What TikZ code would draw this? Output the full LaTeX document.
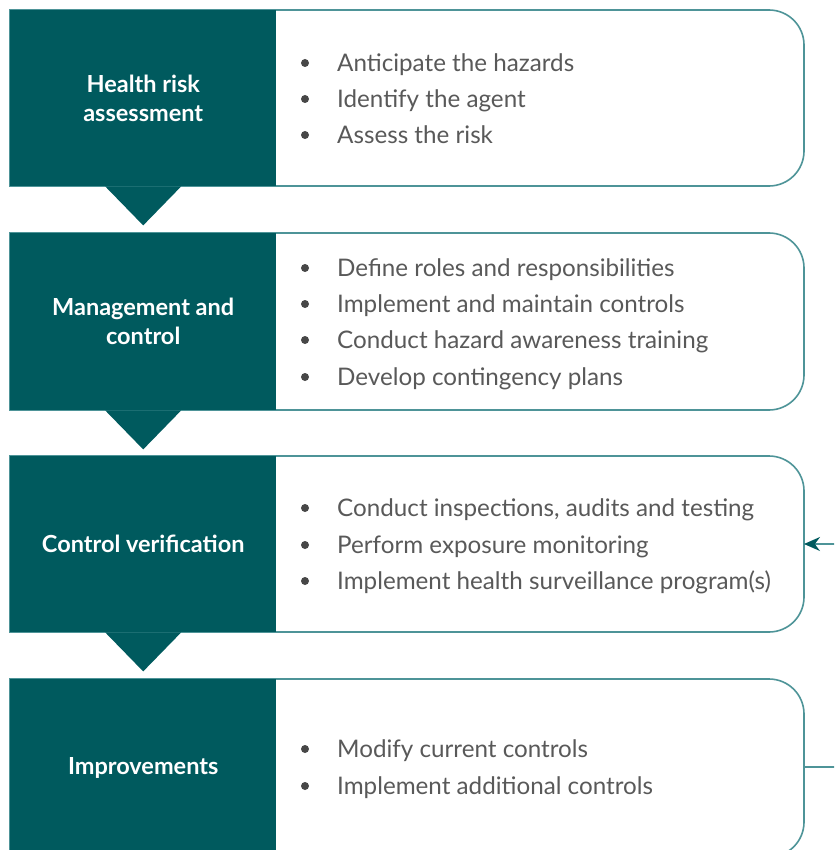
\documentclass[tikz,border=0pt]{standalone}
\usepackage{fontspec}
\setmainfont{Lato}
\usetikzlibrary{arrows.meta}
\definecolor{darkteal}{HTML}{005A5E}
\definecolor{edgeteal}{HTML}{4E9498}
\definecolor{txtgrey}{HTML}{595959}
\tikzset{
  darkbox/.style={fill=darkteal, draw=none, minimum width=266pt, minimum height=#1, inner sep=0pt, anchor=north west, text=white, font=\fontsize{23.5}{29}\selectfont\bfseries, align=center},
  contentbox/.style={draw=edgeteal, line width=1.6pt, fill=white},
  pointer/.style={fill=darkteal, draw=none},
  bullet/.style={anchor=base west, text=txtgrey, font=\fontsize{24.2}{36}\selectfont, inner sep=0pt},
  dot/.style={circle, fill=txtgrey!80!black, minimum size=8pt, inner sep=0pt},
  feedback/.style={draw=edgeteal, line width=1.6pt},
}
\begin{document}
\begin{tikzpicture}[x=1pt,y=-1pt]
\useasboundingbox (0,0) rectangle (834,850);
\clip (0,0) rectangle (834,850);
% content boxes
\foreach \t/\b in {10/186, 233/410, 456/632, 679/857}{
  \draw[contentbox] (10,\t) -- (460,\t) [rounded corners=35pt] -- (804,\t) -- (804,\b) -- (460,\b) [sharp corners] -- (10,\b) -- cycle;
}
% dark boxes
\node[darkbox=176pt] (d1) at (10,10) {Health risk\\assessment};
\node[darkbox=177pt] (d2) at (10,233) {Management and\\control};
\node[darkbox=176pt] (d3) at (10,456) {Control verification};
\node[darkbox=178pt] (d4) at (10,679) {Improvements};
% pointers
\fill[pointer] (d1.south) ++(-38,0) -- ++(38,39) -- ++(38,-39) -- cycle;
\fill[pointer] (d2.south) ++(-38,0) -- ++(38,39) -- ++(38,-39) -- cycle;
\fill[pointer] (d3.south) ++(-38,0) -- ++(38,39) -- ++(38,-39) -- cycle;
% bullets
\foreach \y/\s in {63/Anticipate the hazards, 99/Identify the agent, 135/Assess the risk,
  268/Define roles and responsibilities, 304/Implement and maintain controls, 340/Conduct hazard awareness training, 377/Develop contingency plans,
  508/{Conduct inspections, audits and testing}, 545/Perform exposure monitoring, 581/Implement health surveillance program(s),
  749/Modify current controls, 786/Implement additional controls}{
  \node[dot] at (305,\y) {};
  \node[bullet] at (337,\y+8.5) {\s};
}
% feedback
\coordinate (in3) at (804,544);
\coordinate (out4) at (804,767);
\coordinate (r3) at (840,544);
\coordinate (r4) at (840,767);
\draw[feedback] (out4) -- (r4);
\draw[feedback, -{Stealth[length=16pt, width=14pt, color=darkteal]}] (r3) -- (in3);
\end{tikzpicture}
\end{document}
